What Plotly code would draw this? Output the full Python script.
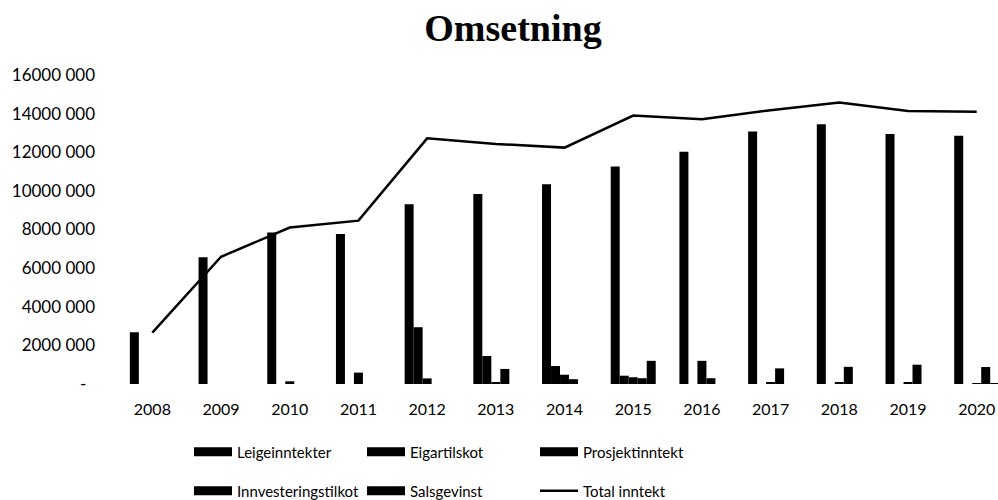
import plotly.graph_objects as go

years = ["2008", "2009", "2010", "2011", "2012", "2013", "2014",
         "2015", "2016", "2017", "2018", "2019", "2020"]

leigeinntekter = [2680000, 6560000, 7840000, 7770000, 9310000, 9840000, 10340000,
                  11260000, 12030000, 13070000, 13450000, 12950000, 12860000]
eigartilskot = [0, 0, 0, 0, 2940000, 1450000, 930000,
                430000, 0, 0, 0, 0, 0]
prosjektinntekt = [0, 0, 140000, 590000, 290000, 100000, 480000,
                   350000, 1200000, 70000, 70000, 70000, 40000]
innvesteringstilkot = [0, 0, 0, 0, 0, 780000, 250000,
                       300000, 300000, 810000, 890000, 1000000, 880000]
salsgevinst = [0, 0, 0, 0, 0, 0, 0,
               1200000, 0, 0, 0, 0, 30000]
total_inntekt = [2660000, 6590000, 8100000, 8460000, 12720000, 12430000, 12240000,
                 13900000, 13710000, 14180000, 14570000, 14140000, 14100000]

bar_series = [
    ("Leigeinntekter", leigeinntekter, "legend"),
    ("Eigartilskot", eigartilskot, "legend"),
    ("Prosjektinntekt", prosjektinntekt, "legend"),
    ("Innvesteringstilkot", innvesteringstilkot, "legend2"),
    ("Salsgevinst", salsgevinst, "legend2"),
]

y_tickvals = [0, 2000000, 4000000, 6000000, 8000000, 10000000, 12000000, 14000000, 16000000]
y_ticktext = ["-\u00a0\u00a0", "2000 000", "4000 000", "6000 000", "8000 000",
              "10000 000", "12000 000", "14000 000", "16000 000"]

FONT = "Lato"
fig = go.Figure()

for name, vals, lg in bar_series:
    fig.add_trace(go.Bar(
        x=years, y=vals, name=name, marker=dict(color="black", line=dict(width=0)),
        legendgroup=name, showlegend=False,
    ))
    # legend swatch (wide flat rectangle like the original)
    fig.add_trace(go.Scatter(
        x=[None], y=[None], mode="lines", name=name, legendgroup=name,
        line=dict(color="black", width=9), legend=lg, hoverinfo="skip",
    ))

fig.add_trace(go.Scatter(
    x=years, y=total_inntekt, mode="lines", name="Total inntekt",
    line=dict(color="black", width=2.5), legend="legend2",
))

PLOT_L, PLOT_R, PLOT_T, PLOT_B = 118, 998, 75, 384
PW, PH = PLOT_R - PLOT_L, PLOT_B - PLOT_T

def lx(px):
    return (px - PLOT_L) / PW

def ly(py):
    return (PLOT_B - py) / PH

legend_common = dict(orientation="h", xanchor="left", yanchor="middle",
                     entrywidth=120, entrywidthmode="pixels", itemwidth=38,
                     font=dict(family=FONT, size=15), bgcolor="rgba(0,0,0,0)")

fig.update_layout(
    width=998, height=500,
    margin=dict(l=PLOT_L, r=998 - PLOT_R, t=PLOT_T, b=500 - PLOT_B, autoexpand=False),
    paper_bgcolor="white", plot_bgcolor="white",
    barmode="group", bargap=0.345, bargroupgap=0,
    title=dict(text="<b>Omsetning</b>", x=0.514, xanchor="center", y=0.944, yanchor="middle",
               font=dict(family="Liberation Serif", size=38, color="black")),
    font=dict(family=FONT, size=16, color="black"),
    showlegend=True,
    legend=dict(x=lx(189), y=ly(452), **legend_common),
    legend2=dict(x=lx(189), y=ly(491), **legend_common),
)

fig.update_xaxes(type="category", range=[-0.5, 12.31], showgrid=False, showline=False,
                 zeroline=False, ticks="", ticklabelstandoff=14, automargin=False,
                 tickfont=dict(family=FONT, size=16, color="black"))
fig.update_yaxes(range=[0, 16000000], tickvals=y_tickvals, ticktext=y_ticktext,
                 showgrid=False, showline=False, zeroline=False, ticks="", automargin=False,
                 ticklabelstandoff=22, tickfont=dict(family=FONT, size=17, color="black"))

fig.write_html("out.html", config=dict(displayModeBar=False),
               post_script="document.body.style.margin='0';document.body.style.overflow='hidden';")
